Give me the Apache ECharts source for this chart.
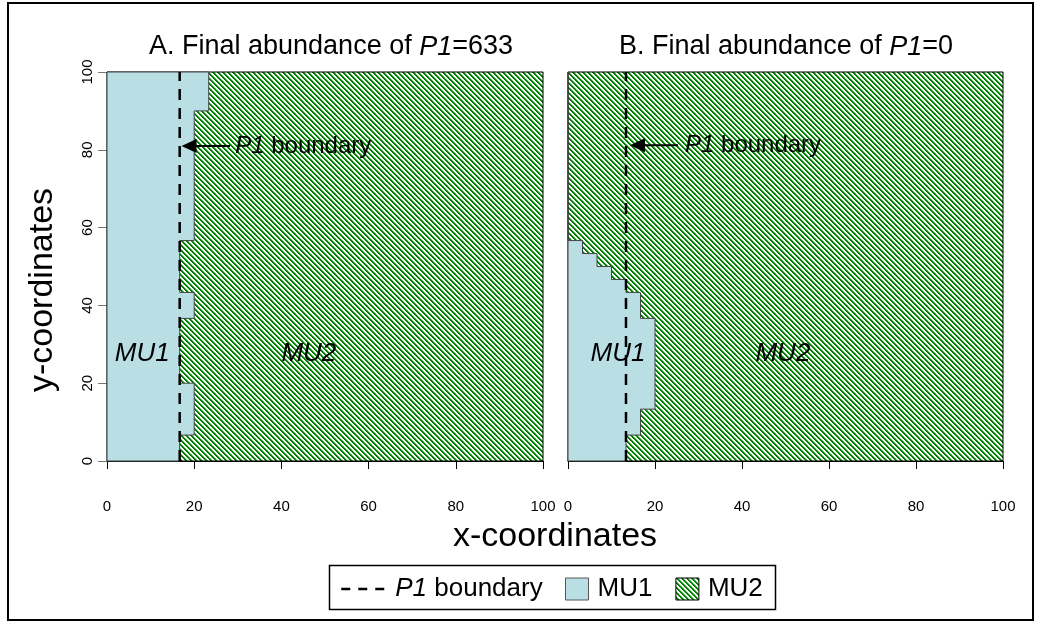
<!DOCTYPE html>
<html>
<head>
<meta charset="utf-8">
<script src="https://cdn.jsdelivr.net/npm/echarts@6/dist/echarts.min.js"></script>
<style>
html, body { margin: 0; padding: 0; background: #fff; }
#chart { width: 1037px; height: 624px; }
</style>
</head>
<body>
<div id="chart"></div>
<script>
// landscape is a 30 x 30 grid; each entry = number of MU1 cells from the left edge, rows from y=0 upward
var cellSize = 100 / 30;
var mu1CellsA = [5,5,6,6,6,6,5,5,5,5,5,6,6,5,5,5,5,6,6,6,6,6,6,6,6,6,6,7,7,7];
var mu1CellsB = [4,4,5,5,6,6,6,6,6,6,6,5,5,4,3,2,1,0,0,0,0,0,0,0,0,0,0,0,0,0];
var p1Boundary = [16.67, 13.33];
var p1Abundance = [633, 0];
var panelLetters = ['A', 'B'];

var FONT = '"Liberation Sans", Arial, Helvetica, sans-serif';
var MU1_COLOR = '#b9dfe4';

// green diagonal hatching for MU2
function makeHatch() {
  var c = document.createElement('canvas');
  c.width = 5; c.height = 5;
  var ctx = c.getContext('2d');
  ctx.fillStyle = '#fff';
  ctx.fillRect(0, 0, 5, 5);
  for (var y = 0; y < 5; y++) {
    for (var x = 0; x < 5; x++) {
      var k = ((x - y) % 5 + 5) % 5;
      if (k < 2) { ctx.fillStyle = '#008000'; ctx.fillRect(x, y, 1, 1); }
      else if (k === 2) { ctx.fillStyle = '#7fbf7f'; ctx.fillRect(x, y, 1, 1); }
    }
  }
  return c;
}
var hatch = { image: makeHatch(), repeat: 'repeat' };

function mu1Outline(cells) {
  var pts = [[0, 0]];
  cells.forEach(function (c, i) {
    pts.push([c * cellSize, i * cellSize]);
    pts.push([c * cellSize, (i + 1) * cellSize]);
  });
  pts.push([0, 100]);
  return pts;
}
var wholePlot = [[0, 0], [100, 0], [100, 100], [0, 100]];

function polygonSeries(name, idx, points, fill, stroke) {
  return {
    name: name,
    type: 'custom',
    xAxisIndex: idx, yAxisIndex: idx,
    data: [[0, 0]],
    silent: true,
    itemStyle: { color: fill, borderColor: stroke, borderWidth: 1 },
    renderItem: function (params, api) {
      return {
        type: 'polygon',
        shape: { points: points.map(function (p) { return api.coord(p); }) },
        style: { fill: fill, stroke: stroke, lineWidth: 1 }
      };
    }
  };
}

// arrow pointing at the boundary plus its label, and the MU names
function annotSeries(idx, arrowY, tailX, tipX, textX, mu1X, mu2X, muY) {
  return {
    type: 'custom',
    xAxisIndex: idx, yAxisIndex: idx,
    data: [[0, 0]],
    silent: true,
    z: 5,
    renderItem: function (params, api) {
      var tail = api.coord([tailX, arrowY]);
      var tip = api.coord([tipX, arrowY]);
      var t = api.coord([textX, arrowY]);
      var m1 = api.coord([mu1X, muY]);
      var m2 = api.coord([mu2X, muY]);
      var muStyle = { fontSize: 26, fontStyle: 'italic', fontFamily: FONT, color: '#000' };
      return {
        type: 'group',
        children: [
          { type: 'line', shape: { x1: tail[0], y1: tail[1], x2: tip[0] + 10, y2: tip[1] },
            style: { stroke: '#000', lineWidth: 2 } },
          { type: 'polygon', shape: { points: [[tip[0], tip[1]], [tip[0] + 15, tip[1] - 7], [tip[0] + 15, tip[1] + 7]] },
            style: { fill: '#000' } },
          { type: 'text', x: t[0], y: t[1],
            style: { text: '{i|P1}{n| boundary}', align: 'left', verticalAlign: 'middle',
              textAlign: 'left', textVerticalAlign: 'middle',
              rich: { i: { fontSize: 24, fontStyle: 'italic', fontFamily: FONT, color: '#000' },
                      n: { fontSize: 24, fontFamily: FONT, color: '#000' } } } },
          { type: 'text', x: m1[0], y: m1[1],
            style: { text: '{m|MU1}', align: 'center', verticalAlign: 'middle',
              textAlign: 'center', textVerticalAlign: 'middle', rich: { m: muStyle } } },
          { type: 'text', x: m2[0], y: m2[1],
            style: { text: '{m|MU2}', align: 'center', verticalAlign: 'middle',
              textAlign: 'center', textVerticalAlign: 'middle', rich: { m: muStyle } } }
        ]
      };
    }
  };
}

function boundarySeries(idx) {
  return {
    name: 'P1 boundary',
    type: 'line',
    xAxisIndex: idx, yAxisIndex: idx,
    data: [[p1Boundary[idx], 0], [p1Boundary[idx], 100]],
    symbol: 'none',
    silent: true,
    z: 4,
    itemStyle: { color: '#000' },
    lineStyle: { color: '#000', width: 2.5, type: [11, 8] }
  };
}

var chart = echarts.init(document.getElementById('chart'), null, { renderer: 'canvas' });

var titleRich = {
  n: { fontSize: 27, fontFamily: FONT, color: '#000' },
  i: { fontSize: 27, fontFamily: FONT, fontStyle: 'italic', color: '#000' }
};
var legendRich = {
  n: { fontSize: 26, fontFamily: FONT, color: '#000', lineHeight: 26 },
  i: { fontSize: 26, fontFamily: FONT, fontStyle: 'italic', color: '#000', lineHeight: 26 }
};
function legendFormatter(name) {
  return name === 'P1 boundary' ? '{i|P1}{n| boundary}' : '{n|' + name + '}';
}

chart.setOption({
  animation: false,
  backgroundColor: '#fff',
  grid: [
    { left: 107, top: 72, width: 436, height: 389 },
    { left: 568, top: 72, width: 435, height: 389 }
  ],
  xAxis: [0, 1].map(function (i) {
    return {
      gridIndex: i, type: 'value', min: 0, max: 100, interval: 20, offset: 16,
      axisLine: { show: true, lineStyle: { color: '#000', width: 1 } },
      axisTick: { show: true, length: 8, lineStyle: { color: '#000', width: 1 } },
      axisLabel: { fontSize: 15, color: '#000', margin: 22, fontFamily: FONT },
      splitLine: { show: false }
    };
  }),
  yAxis: [
    {
      gridIndex: 0, type: 'value', min: 0, max: 100, interval: 20,
      axisLine: { show: true, lineStyle: { color: '#777', width: 1 } },
      axisTick: { show: true, length: 9, lineStyle: { color: '#777', width: 1 } },
      axisLabel: { fontSize: 15, color: '#000', margin: 12, rotate: 90, fontFamily: FONT },
      splitLine: { show: false }
    },
    { gridIndex: 1, type: 'value', min: 0, max: 100, show: false }
  ],
  legend: [
    {
      data: [{
        name: 'P1 boundary',
        lineStyle: { type: [9, 8], width: 2.5, color: '#000' },
        itemStyle: { color: 'rgba(0,0,0,0)', borderColor: 'rgba(0,0,0,0)', borderWidth: 0, opacity: 0 }
      }],
      left: 340, top: 576, padding: 0,
      itemWidth: 43, itemHeight: 22,
      selectedMode: false,
      formatter: legendFormatter,
      textStyle: { rich: legendRich, padding: [0, 0, 0, 6] }
    },
    {
      data: [
        { name: 'MU1', icon: 'rect', itemStyle: { color: MU1_COLOR, borderColor: '#555', borderWidth: 1 } },
        { name: 'MU2', icon: 'rect', itemStyle: { color: hatch, borderColor: '#000', borderWidth: 1 } }
      ],
      left: 565, top: 576, padding: 0,
      itemWidth: 23, itemHeight: 22, itemGap: 23,
      selectedMode: false,
      formatter: legendFormatter,
      textStyle: { rich: legendRich, padding: [0, 0, 0, 4] }
    }
  ],
  graphic: [
    { type: 'rect', shape: { x: 8, y: 3, width: 1025, height: 617 }, style: { fill: null, stroke: '#000', lineWidth: 2 }, silent: true },
    { type: 'rect', shape: { x: 329.5, y: 565.5, width: 446, height: 44 }, style: { fill: null, stroke: '#000', lineWidth: 1.5 }, silent: true },
    { type: 'text', x: 331, y: 47, silent: true,
      style: { text: '{n|' + panelLetters[0] + '. Final abundance of }{i|P1}{n|=' + p1Abundance[0] + '}', rich: titleRich,
        align: 'center', verticalAlign: 'middle', textAlign: 'center', textVerticalAlign: 'middle' } },
    { type: 'text', x: 786, y: 47, silent: true,
      style: { text: '{n|' + panelLetters[1] + '. Final abundance of }{i|P1}{n|=' + p1Abundance[1] + '}', rich: titleRich,
        align: 'center', verticalAlign: 'middle', textAlign: 'center', textVerticalAlign: 'middle' } },
    { type: 'text', x: 555, y: 537, silent: true,
      style: { text: 'x-coordinates', font: '34px ' + FONT, fill: '#000',
        align: 'center', verticalAlign: 'middle', textAlign: 'center', textVerticalAlign: 'middle' } },
    { type: 'text', x: 43, y: 290, rotation: Math.PI / 2, silent: true,
      style: { text: 'y-coordinates', font: '34px ' + FONT, fill: '#000',
        align: 'center', verticalAlign: 'middle', textAlign: 'center', textVerticalAlign: 'middle' } }
  ],
  series: [
    polygonSeries('MU2', 0, wholePlot, hatch, '#000'),
    polygonSeries('MU1', 0, mu1Outline(mu1CellsA), MU1_COLOR, '#444'),
    polygonSeries('MU2', 1, wholePlot, hatch, '#000'),
    polygonSeries('MU1', 1, mu1Outline(mu1CellsB), MU1_COLOR, '#444'),
    boundarySeries(0),
    boundarySeries(1),
    annotSeries(0, 81, 28.2, 17.1, 29.4, 8.1, 46.3, 27.5),
    annotSeries(1, 81.2, 25.3, 14.25, 26.9, 11.5, 49.4, 27.5)
  ]
});
</script>
</body>
</html>
